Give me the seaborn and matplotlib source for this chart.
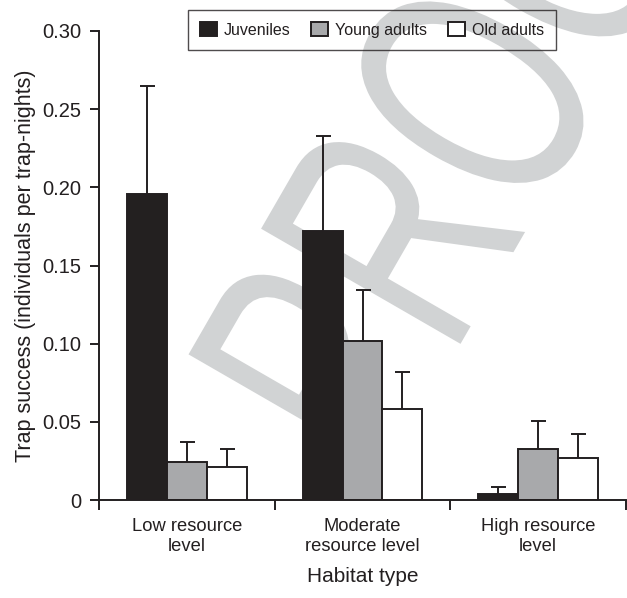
import numpy as np
import pandas as pd
import matplotlib
matplotlib.use("Agg")
import matplotlib.pyplot as plt
import seaborn as sns
from matplotlib.patheffects import AbstractPathEffect
from matplotlib.transforms import Affine2D

# ---------------- data ----------------
habitats = ["Low resource\nlevel", "Moderate\nresource level", "High resource\nlevel"]
age_classes = ["Juveniles", "Young adults", "Old adults"]
juveniles = [0.196, 0.172, 0.004]
young_adults = [0.024, 0.102, 0.0325]
old_adults = [0.021, 0.058, 0.0267]
juveniles_se = [0.069, 0.061, 0.004]
young_adults_se = [0.013, 0.0326, 0.018]
old_adults_se = [0.0114, 0.024, 0.0156]
y_ticks = [0, 0.05, 0.10, 0.15, 0.20, 0.25, 0.30]
y_tick_labels = ["0", "0.05", "0.10", "0.15", "0.20", "0.25", "0.30"]
bar_colors = ["#231f20", "#a7a9ac", "#ffffff"]

EDGE = "#231f20"
WATERMARK = "#d1d3d4"

df = pd.DataFrame({
    "habitat": habitats * 3,
    "age": [a for a in age_classes for _ in habitats],
    "value": juveniles + young_adults + old_adults,
})
se_by_age = [juveniles_se, young_adults_se, old_adults_se]

sns.set_style("ticks")
plt.rcParams["font.family"] = ["Liberation Sans", "DejaVu Sans"]
plt.rcParams["text.color"] = EDGE
plt.rcParams["axes.labelcolor"] = EDGE
plt.rcParams["xtick.color"] = EDGE
plt.rcParams["ytick.color"] = EDGE


class Condense(AbstractPathEffect):
    """Horizontally condense glyphs of a text (keeps it a real Text)."""
    def __init__(self, k):
        super().__init__()
        self.k = k

    def draw_path(self, renderer, gc, tpath, affine, rgbFace=None):
        renderer.draw_path(gc, tpath, Affine2D().scale(self.k, 1.0) + affine, rgbFace)


fig = plt.figure(figsize=(6.27, 5.98), dpi=100)
ax = fig.add_axes([99 / 627, 1 - 500 / 598, 527 / 627, 469 / 598])

# watermark
ax.text(0.6045, 0.189, "PROOF", transform=fig.transFigure, rotation=60,
        rotation_mode="anchor", ha="left", va="baseline", fontsize=241,
        color=WATERMARK, zorder=1, family="Liberation Sans",
        path_effects=[Condense(0.65)])

sns.barplot(data=df, x="habitat", y="value", hue="age", order=habitats,
            hue_order=age_classes, palette=bar_colors, width=0.68,
            edgecolor=EDGE, linewidth=1.4, errorbar=None, ax=ax, zorder=2)

for cont, ses in zip(ax.containers, se_by_age):
    xs = [p.get_x() + p.get_width() / 2 for p in cont.patches]
    hs = [p.get_height() for p in cont.patches]
    _, caps, _ = ax.errorbar(xs, hs, yerr=[np.zeros(len(ses)), ses], fmt="none",
                             ecolor=EDGE, elinewidth=1.4, capsize=5.4,
                             capthick=1.4, zorder=2.5)
    caps[0].set_visible(False)

ax.set_xlim(-0.5, 2.5)
ax.set_ylim(0, 0.30)
ax.set_yticks(y_ticks, labels=y_tick_labels)
ax.set_xticks([0, 1, 2], labels=habitats)
ax.set_xticks([-0.5, 0.5, 1.5, 2.5], minor=True)
ax.tick_params(axis="x", which="major", length=0, pad=13, labelsize=13.25)
ax.tick_params(axis="x", which="minor", length=7, width=1.4, direction="out")
ax.tick_params(axis="y", length=6.5, width=1.4, pad=6, labelsize=14.5)

for s in ["top", "right"]:
    ax.spines[s].set_visible(False)
for s in ["left", "bottom"]:
    ax.spines[s].set_linewidth(1.4)
    ax.spines[s].set_color(EDGE)

ax.set_xlabel("Habitat type", fontsize=15, labelpad=9)
ax.set_ylabel("Trap success (individuals per trap-nights)", fontsize=15.5, labelpad=5)

sns.move_legend(ax, "upper center", bbox_to_anchor=(372 / 627, 1 - 10 / 598),
                bbox_transform=fig.transFigure, ncol=3, title=None, frameon=True,
                fontsize=11.5, handlelength=1.06, handleheight=1.0,
                handletextpad=0.45, columnspacing=1.3, borderpad=0.75,
                borderaxespad=0, fancybox=False, edgecolor=EDGE, facecolor="none")
leg = ax.get_legend()
leg.get_frame().set_linewidth(1.0)
leg.set_zorder(5)
for h in leg.legend_handles:
    h.set_edgecolor(EDGE)
    h.set_linewidth(1.4)

fig.savefig("out.png", dpi=100)
